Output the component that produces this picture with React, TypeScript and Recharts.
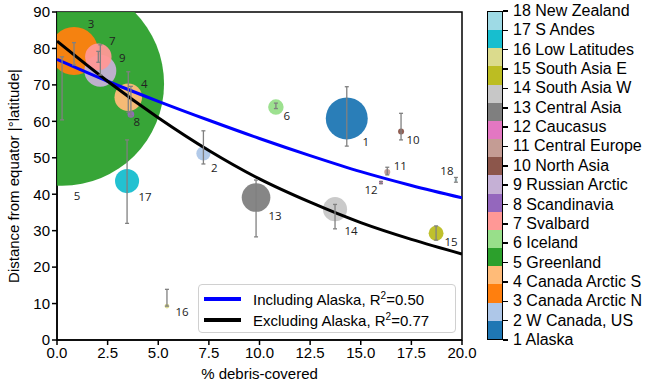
import React from 'react';
import {
  ComposedChart,
  Scatter,
  Line,
  XAxis,
  YAxis,
  ZAxis,
  ErrorBar,
  ReferenceArea,
  Label,
} from 'recharts';

// RGI regions, numbered 1..18
const regionNames = [
  'Alaska', 'W Canada, US', 'Canada Arctic N', 'Canada Arctic S', 'Greenland', 'Iceland',
  'Svalbard', 'Scandinavia', 'Russian Arctic', 'North Asia', 'Central Europe', 'Caucasus',
  'Central Asia', 'South Asia W', 'South Asia E', 'Low Latitudes', 'S Andes', 'New Zealand',
];
// tab20 colours as used by the colour bar
const regionColors = [
  '#1f77b4', '#aec7e8', '#ff7f0e', '#ffbb78', '#2ca02c', '#98df8a', '#ff9896', '#9467bd', '#c5b0d5',
  '#8c564b', '#c49c94', '#e377c2', '#7f7f7f', '#c7c7c7', '#bcbd22', '#dbdb8d', '#17becf', '#9edae5',
];
const debrisPct = [14.31, 7.23, 0.84, 3.52, 0.25, 10.81, 2.04, 3.65, 2.14, 16.99, 16.31, 16.0, 9.83, 13.73, 18.72, 5.43, 3.46, 19.7];
const latitude = [60.8, 51.2, 79.3, 66.6, 70.3, 63.9, 77.7, 61.9, 73.9, 57.2, 46.1, 43.2, 39.1, 35.9, 29.3, 9.3, 43.6, 43.9];
const latMin = [53.2, 48.3, 75.5, 62.5, 60.4, 63.5, 76.2, 61.5, 72.7, 54.9, 45.3, 42.9, 28.3, 30.5, 27.4, 9.3, 32.0, 43.3];
const latMax = [69.5, 57.4, 81.6, 73.6, 77.7, 65.0, 79.2, 69.6, 81.0, 62.2, 47.4, 43.5, 43.9, 37.2, 31.3, 13.9, 54.9, 44.6];
// glacier area, 10^3 km2 (bubble area)
const glacierArea = [88, 10, 115, 38, 2080, 12, 35, 2.2, 51, 1.8, 1.8, 0.8, 41, 29, 11, 1.2, 29, 0.4];

// fitted curves
const fitX = [0, 2.5, 5, 7.5, 10, 12.5, 15, 17.5, 20];
const fitIncl = [77, 71, 65.5, 60.3, 55.3, 50.6, 46.2, 42.4, 39];
const fitExcl = [82, 71, 61, 52, 44.2, 37.8, 32.2, 27.6, 23.6];
const fitLabels = ['Including Alaska', 'Excluding Alaska'];
const fitR2 = ['0.50', '0.77'];
const fitColors = ['#0000ff', '#000000'];

const xTicks = [0, 2.5, 5, 7.5, 10, 12.5, 15, 17.5, 20];
const yTicks = [0, 10, 20, 30, 40, 50, 60, 70, 80, 90];

// pixel offset of each number label from its bubble centre
const labelOffsets: [number, number][] = [
  [19, 23], [11, 14], [17, -27], [16, -14], [15, 112], [11, 8], [14, -16], [6, 7], [22, -13],
  [12, 8], [13, -6], [-10, 7], [19, 18], [16, 21], [15, 8], [15, 5], [18, 15], [-9, -10],
];

const FONT = '"Liberation Sans", Arial, sans-serif';

const regions = regionNames.map((name, i) => ({
  id: i + 1,
  name,
  x: debrisPct[i],
  y: latitude[i],
  z: glacierArea[i],
  err: [latitude[i] - latMin[i], latMax[i] - latitude[i]],
  color: regionColors[i],
}));
// biggest first so the small ones stay visible
const drawOrder = [...regions].sort((a, b) => b.z - a.z);

const inclData = fitX.map((x, i) => ({ x, y: fitIncl[i] }));
const exclData = fitX.map((x, i) => ({ x, y: fitExcl[i] }));

const Bubble = (props: any) => {
  const r = Math.sqrt(Math.max(props.size || 0, 0) / Math.PI);
  return <circle cx={props.cx} cy={props.cy} r={r} fill={props.payload.color} fillOpacity={0.95} />;
};

const PointLabel = (props: any) => {
  const [dx, dy] = labelOffsets[props.payload.id - 1];
  return (
    <text
      x={props.cx + dx}
      y={props.cy + dy}
      textAnchor="middle"
      dominantBaseline="central"
      fontSize={11.5}
      fontFamily='"Open Sans", sans-serif'
      fill="#222"
    >
      {props.payload.id}
    </text>
  );
};

const FitLegend = () => (
  <div
    style={{
      position: 'absolute',
      left: 198,
      top: 284,
      width: 258,
      height: 49,
      boxSizing: 'border-box',
      border: '1px solid #d0d0d0',
      borderRadius: 4,
      background: 'rgba(255,255,255,0.85)',
      padding: '3px 0 0 5px',
      fontFamily: FONT,
      fontSize: 15,
      color: '#000',
    }}
  >
    {fitLabels.map((lab, i) => (
      <div key={lab} style={{ display: 'flex', alignItems: 'center', height: 21 }}>
        <span style={{ display: 'inline-block', width: 37, height: 4, background: fitColors[i], marginRight: 12 }} />
        <span>
          {lab}, R<sup style={{ fontSize: 10 }}>2</sup>={fitR2[i]}
        </span>
      </div>
    ))}
  </div>
);

const YLabel = (props: any) => {
  const vb = props.viewBox;
  const x = vb.x + 1;
  const y = vb.y + vb.height / 2;
  return (
    <text
      x={x}
      y={y}
      transform={`rotate(-90 ${x} ${y})`}
      textAnchor="middle"
      dominantBaseline="central"
      fontSize={15}
      fontFamily={FONT}
      fill="#000"
    >
      Distance from equator |°latitude|
    </text>
  );
};

const ColorBar = () => {
  const top = 11;
  const h = 329;
  const n = regionNames.length;
  return (
    <div style={{ position: 'absolute', left: 487, top, width: 16, height: h }}>
      <div style={{ position: 'absolute', inset: 0, display: 'flex', flexDirection: 'column-reverse', border: '1.5px solid #000', boxSizing: 'border-box' }}>
        {regionColors.map((c) => (
          <div key={c} style={{ flex: 1, background: c }} />
        ))}
      </div>
      {regionNames.map((name, i) => {
        const ty = h - (i * h) / (n - 1);
        return (
          <React.Fragment key={name}>
            <div style={{ position: 'absolute', left: 16, top: ty - 0.75, width: 5, height: 1.5, background: '#000' }} />
            <div
              style={{
                position: 'absolute',
                left: 26,
                top: ty - 10,
                height: 20,
                lineHeight: '20px',
                whiteSpace: 'nowrap',
                fontFamily: FONT,
                fontSize: 16,
                color: '#000',
              }}
            >
              {i + 1} {name}
            </div>
          </React.Fragment>
        );
      })}
    </div>
  );
};

export default function App() {
  const tickStyle = { fill: '#000', fontSize: 15, fontFamily: FONT };
  return (
    <div style={{ position: 'absolute', left: 0, top: 0, width: 652, height: 386, background: '#fff' }}>
      <ComposedChart width={652} height={386} margin={{ top: 12, right: 190, bottom: 16, left: 12 }}>
        <XAxis
          type="number"
          dataKey="x"
          domain={[0, 20]}
          ticks={xTicks}
          allowDataOverflow
          interval={0}
          tickFormatter={(v: number) => v.toFixed(1)}
          height={30}
          tick={tickStyle}
          tickSize={5}
          tickLine={{ stroke: '#000', strokeWidth: 1.5 }}
          axisLine={{ stroke: '#000', strokeWidth: 1.5 }}
        >
          <Label value="% debris-covered" position="bottom" offset={-2} fontSize={15} fontFamily={FONT} fill="#000" />
        </XAxis>
        <YAxis
          type="number"
          dataKey="y"
          domain={[0, 90]}
          ticks={yTicks}
          allowDataOverflow
          interval={0}
          width={45}
          tick={tickStyle}
          tickSize={5}
          tickLine={{ stroke: '#000', strokeWidth: 1.5 }}
          axisLine={{ stroke: '#000', strokeWidth: 1.5 }}
        >
          <Label content={YLabel} />
        </YAxis>
        <ZAxis type="number" dataKey="z" domain={[0, 2080]} range={[0, 32685]} />
        <ReferenceArea x1={0} x2={20} y1={0} y2={90} fill="none" stroke="#000" strokeWidth={1.5} />
        <Scatter data={drawOrder} shape={Bubble} isAnimationActive={false} zIndex={500} />
        <Line data={inclData} dataKey="y" type="monotone" stroke={fitColors[0]} strokeWidth={3} dot={false} isAnimationActive={false} zIndex={700} />
        <Line data={exclData} dataKey="y" type="monotone" stroke={fitColors[1]} strokeWidth={3} dot={false} isAnimationActive={false} zIndex={700} />
        <Scatter data={drawOrder} shape={PointLabel} isAnimationActive={false} zIndex={800}>
          <ErrorBar dataKey="err" direction="y" width={2} stroke="#808080" strokeWidth={1.3} isAnimationActive={false} zIndex={800} />
        </Scatter>
      </ComposedChart>
      <FitLegend />
      <ColorBar />
    </div>
  );
}
